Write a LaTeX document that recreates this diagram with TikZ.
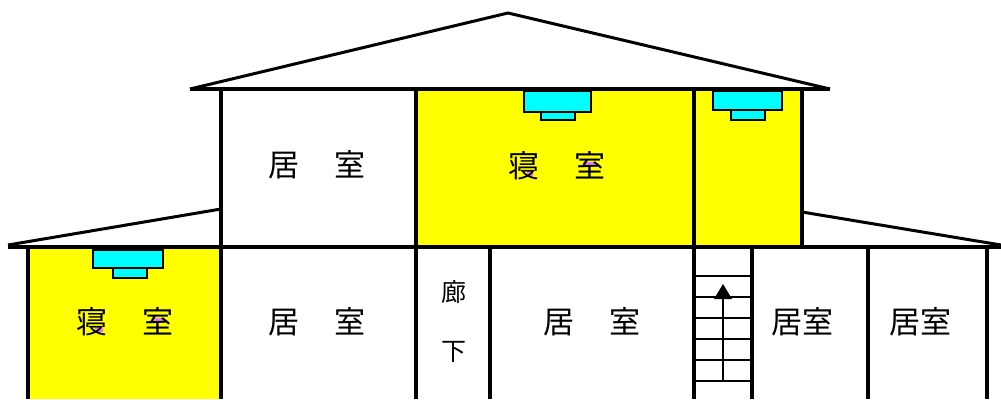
\documentclass[tikz,border=0pt]{standalone}
\usepackage{fontspec}
\newfontfamily\cjk{Noto Sans CJK JP}
\definecolor{acblue}{RGB}{0,255,255}
\definecolor{roomyellow}{RGB}{255,255,0}
\definecolor{patchpink}{RGB}{224,128,224}
\tikzset{
  wall/.style={draw=black,line width=3.6pt},
  thinwall/.style={draw=black,line width=2pt},
  roofline/.style={draw=black,line width=3pt,line join=miter},
  roomfill/.style={fill=roomyellow,draw=none},
  unit/.style={fill=acblue,draw=black,line width=1.8pt},
  patch/.style={fill=patchpink,draw=none},
  lbl/.style={font=\cjk\fontsize{31}{33}\selectfont,inner sep=0pt,text=black},
  lblsm/.style={font=\cjk\fontsize{25}{27}\selectfont,inner sep=0pt,text=black}
}
\newcommand{\pair}[2]{#1\hspace{36pt}#2}
\begin{document}
\begin{tikzpicture}[x=1pt,y=-1pt]
\useasboundingbox (0,0) rectangle (1001,399);
\fill[white] (0,0) rectangle (1001,399);
% yellow rooms
\fill[roomfill] (416,89) rectangle (802,247);
\fill[roomfill] (28,247) rectangle (221,399);
% roofs
\draw[roofline] (190,89) -- (508,13) -- (830,89);
\draw[roofline] (8,245) -- (221,209);
\draw[roofline] (802,212) -- (1001,245);
% floors
\draw[wall] (190,89) -- (830,89);
\draw[wall] (8,247) -- (1001,247);
% upper walls
\foreach \x in {221,416,694} \draw[wall] (\x,89) -- (\x,399);
\draw[wall] (802,89) -- (802,247);
% lower walls
\foreach \x in {28,490,752,868,987} \draw[wall] (\x,247) -- (\x,399);
% air conditioners
\draw[unit] (524,91) rectangle (591,112);
\draw[unit] (541,112) rectangle (575,120);
\draw[unit] (713,91) rectangle (782,110);
\draw[unit] (731,110) rectangle (765,120);
\draw[unit] (93,250) rectangle (163,268);
\draw[unit] (113,268) rectangle (147,278);
% stairs
\foreach \y in {276,297,318,339,360,381} \draw[thinwall] (694,\y) -- (752,\y);
\coordinate (stairfoot) at (723,381);
\coordinate (stairtip) at (723,299);
\draw[thinwall] (stairfoot) -- (stairtip);
\fill[black] (723,284) -- (732,299) -- (714,299) -- cycle;
% small coloured flecks inside the bedroom glyphs
\fill[patch] (527,171) rectangle (533,176);
\fill[patch] (583,162) rectangle (595,166);
\fill[patch] (95,327) rectangle (103,332);
\fill[patch] (152,318) rectangle (165,322);
% labels
\node[lbl] (r1) at (317,165) {\pair{居}{室}};
\node[lbl] (r2) at (557,166) {\pair{寝}{室}};
\node[lbl] (r3) at (125,322) {\pair{寝}{室}};
\node[lbl] (r4) at (317,322) {\pair{居}{室}};
\node[lbl] (r5) at (592,322) {\pair{居}{室}};
\node[lbl] (r6) at (802,322) {居室};
\node[lbl] (r7) at (920,322) {居室};
\node[lblsm] (c1) at (454,292) {廊};
\node[lblsm] (c2) at (454,352) {下};
\end{tikzpicture}
\end{document}
